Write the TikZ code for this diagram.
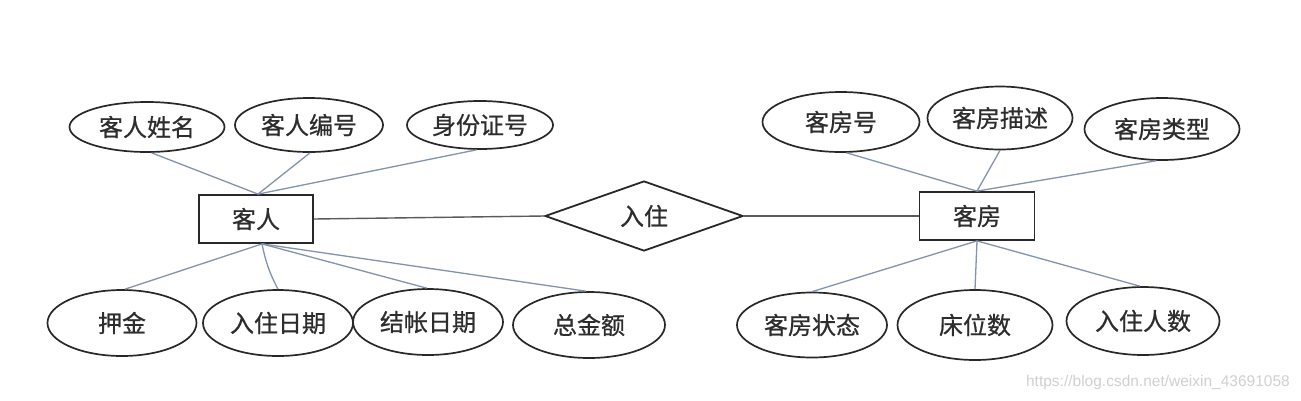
\documentclass[tikz,border=0pt]{standalone}
\usepackage{fontspec}
\setmainfont{Liberation Sans}
\newfontfamily\cjk[FakeBold=0.7]{Noto Sans CJK SC}
\usetikzlibrary{shapes.geometric,calc}
\definecolor{ellc}{RGB}{40,40,40}
\definecolor{txtc}{RGB}{45,45,45}
\definecolor{attrline}{RGB}{130,147,172}
\definecolor{mainline}{RGB}{90,90,95}
\definecolor{wmark}{RGB}{208,208,208}
\begin{document}
\begin{tikzpicture}[x=1pt,y=-1pt,
  cjktext/.style={text=txtc,font=\cjk\fontsize{24}{24}\selectfont},
  attr/.style 2 args={ellipse,draw=ellc,line width=1.7pt,inner sep=0pt,
    minimum width=#1,minimum height=#2,cjktext},
  entity/.style={rectangle,draw=ellc,line width=1.8pt,inner sep=0pt,
    minimum width=114,minimum height=48,cjktext},
  relation/.style={diamond,draw=ellc,line width=1.8pt,inner sep=0pt,aspect=2.8,
    minimum width=198,minimum height=70,cjktext},
  attrlink/.style={draw=attrline,line width=1.3pt},
  mainlink/.style={draw=mainline,line width=1.4pt}]
\fill[white] (0,0) rectangle (1301,400);
\useasboundingbox (0,0) rectangle (1301,400);

% entities and relation
\node[entity] (kr) at (256,219) {客人};
\node[relation] (rz) at (644,216) {入住};
\node[entity,minimum width=115] (kf) at (977,216) {客房};

% left top attributes
\node[attr={155}{50}] (a1) at (147,127) {客人姓名};
\node[attr={148}{54}] (a2) at (309,125) {客人编号};
\node[attr={146}{48}] (a3) at (480,125) {身份证号};

% left bottom attributes
\node[attr={149}{66}] (c1) at (122,323) {押金};
\node[attr={150}{66}] (c2) at (278,323) {入住日期};
\node[attr={150}{66}] (c3) at (428,322) {结帐日期};
\node[attr={152}{66}] (c4) at (589,325) {总金额};

% right top attributes
\node[attr={157}{60}] (b1) at (841,122) {客房号};
\node[attr={145}{63}] (b2) at (1000,118) {客房描述};
\node[attr={155}{62}] (b3) at (1162,129) {客房类型};

% right bottom attributes
\node[attr={150}{65}] (d1) at (812,325) {客房状态};
\node[attr={155}{70}] (d2) at (975,325) {床位数};
\node[attr={153}{68}] (d3) at (1143,321) {入住人数};

% convergence points
\coordinate (krt) at ($(kr.north)+(2,0)$);
\coordinate (krb) at ($(kr.south)+(6,0)$);

% links
\draw[mainlink] (kr.east) -- (rz.west);
\draw[mainlink] (rz.east) -- (kf.west);

\draw[attrlink] (a1.-80) -- (krt);
\draw[attrlink] (a2.-88) -- (krt);
\draw[attrlink] (a3.-98) -- (krt);

\draw[attrlink] (c1.85) -- (krb);
\draw[attrlink] (c2.north) to[bend left=8] (krb);
\draw[attrlink] (c3.92) -- (krb);
\draw[attrlink] (c4.95) -- (krb);

\draw[attrlink] (b1.-80) -- (kf.north);
\draw[attrlink] (b2.south) -- (kf.north);
\draw[attrlink] (b3.-100) -- (kf.north);

\draw[attrlink] (d1.north) -- (kf.south);
\draw[attrlink] (d2.north) -- (kf.south);
\draw[attrlink] (d3.95) -- (kf.south);

% watermark
\node[anchor=east,inner sep=0pt,text=wmark,font=\fontsize{15.5}{16}\selectfont] (wm) at (1290,382) {https://blog.csdn.net/weixin\_43691058};
\end{tikzpicture}
\end{document}
